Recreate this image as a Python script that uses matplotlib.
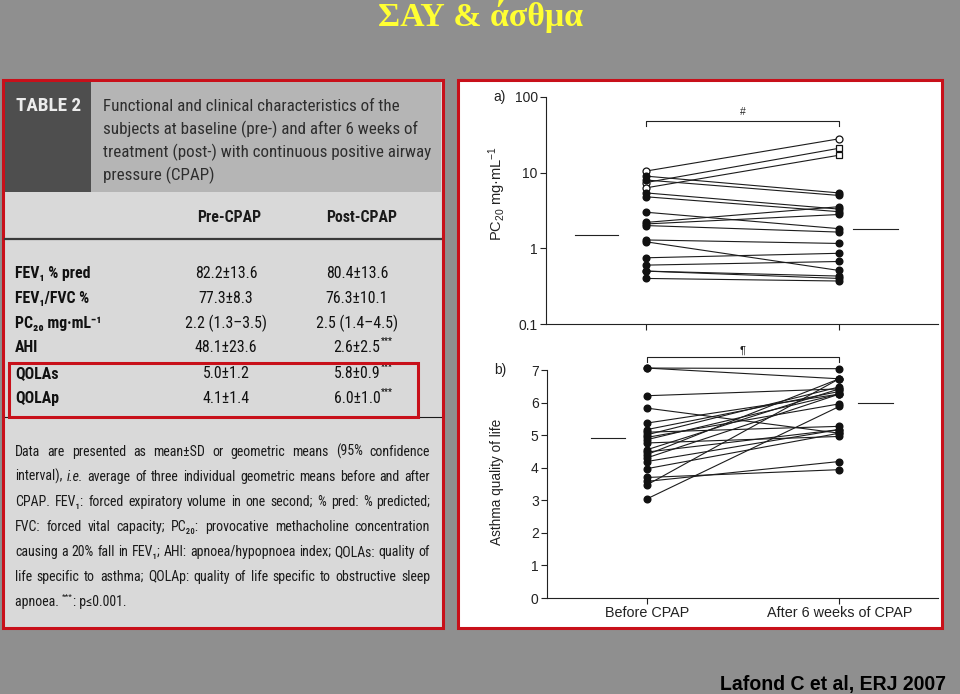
import matplotlib
matplotlib.use('Agg')
import matplotlib.pyplot as plt
from matplotlib.patches import Rectangle
from matplotlib.ticker import NullLocator, FixedLocator

plt.rcParams['mathtext.fontset'] = 'custom'
plt.rcParams['mathtext.rm'] = 'Liberation Sans'
plt.rcParams['mathtext.it'] = 'Liberation Sans:italic'

# ---- data ----
groups = ['Before CPAP', 'After 6 weeks of CPAP']

# a) PC20 (mg/mL), one value per subject; first 3 drawn with open markers
pc20_pre = [10.5, 7.4, 6.3, 9.0, 8.0, 5.4, 4.8, 3.0, 2.2, 2.1, 2.0, 1.29, 1.22, 0.75, 0.60, 0.50, 0.50, 0.40]
pc20_post = [28.0, 21.0, 17.0, 5.4, 5.0, 3.3, 3.05, 1.82, 3.55, 2.8, 1.64, 1.16, 0.51, 0.86, 0.67, 0.43, 0.40, 0.37]
pc20_open = 3
pc20_means = [1.5, 1.8]
pc20_ticks = [0.1, 1, 10, 100]
pc20_ticklabels = ['0.1', '1', '10', '100']

# b) asthma quality of life
qol_pre = [7.06, 7.06, 6.21, 5.83, 5.37, 5.17, 5.09, 5.01, 4.93, 4.86, 4.76, 4.55, 4.48, 4.40, 4.30, 4.19, 3.97, 3.70, 3.58, 3.47, 3.04]
qol_post = [7.04, 6.73, 6.42, 5.06, 6.26, 6.34, 5.27, 6.48, 5.96, 6.26, 4.96, 6.42, 5.17, 6.73, 6.26, 5.17, 5.06, 3.94, 4.19, 6.73, 5.88]
qol_means = [4.9, 6.0]
qol_ticks = [0, 1, 2, 3, 4, 5, 6, 7]

# table 2
table_title = ['Functional and clinical characteristics of the',
               'subjects at baseline (pre-) and after 6 weeks of',
               'treatment (post-) with continuous positive airway',
               'pressure (CPAP)']
table_cols = ['Pre-CPAP', 'Post-CPAP']
table_rows = ['FEV₁ % pred', 'FEV₁/FVC %', 'PC₂₀ mg·mL⁻¹', 'AHI', 'QOLAs', 'QOLAp']
table_pre = ['82.2±13.6', '77.3±8.3', '2.2 (1.3–3.5)', '48.1±23.6', '5.0±1.2', '4.1±1.4']
table_post = ['80.4±13.6', '76.3±10.1', '2.5 (1.4–4.5)', '2.6±2.5', '5.8±0.9', '6.0±1.0']
table_stars = ['', '', '', '***', '***', '***']
footnote = ['Data are presented as mean±SD or geometric means (95% confidence',
            'interval), i.e. average of three individual geometric means before and after',
            'CPAP. FEV₁: forced expiratory volume in one second; % pred: % predicted;',
            'FVC: forced vital capacity; PC₂₀: provocative methacholine concentration',
            'causing a 20% fall in FEV₁; AHI: apnoea/hypopnoea index; QOLAs: quality of',
            'life specific to asthma; QOLAp: quality of life specific to obstructive sleep']

NARROW = ['Roboto Condensed', 'DejaVu Sans']
ARIAL = ['Liberation Sans', 'DejaVu Sans']
RED = '#c8101a'

fig = plt.figure(figsize=(9.6, 6.94), dpi=100, facecolor='#8f8f8f')
bg = fig.add_axes([0, 0, 1, 1])
bg.set_xlim(0, 960)
bg.set_ylim(694, 0)
bg.axis('off')
renderer = fig.canvas.get_renderer()


def width(t):
    return t.get_window_extent(renderer).width


def fit(x, y, s, w, **kw):
    # draw text, then rescale font so it spans w pixels
    t = bg.text(x, y, s, fontsize=10, **kw)
    t.set_fontsize(10 * w / width(t))
    return t


def size_for(s, w, **kw):
    t = bg.text(0, 0, s, fontsize=10, **kw)
    size = 10 * w / width(t)
    t.remove()
    return size


def justify(y, line, x0, x1, size):
    words = line.split(' ')
    ts = [bg.text(0, y, wd, fontsize=size, family=NARROW, va='baseline', color='#1a1a1a',
                  style='italic' if wd == 'i.e.' else 'normal') for wd in words]
    ws = [width(t) for t in ts]
    gap = (x1 - x0 - sum(ws)) / (len(ws) - 1)
    x = x0
    for t, wd in zip(ts, ws):
        t.set_x(x)
        x += wd + gap


# title and source
fit(480, 26, 'ΣΑΥ & άσθμα', 205, ha='center', va='baseline', color='#ffff33',
    family=['Liberation Serif', 'DejaVu Serif'], weight='bold')
fit(946, 690, 'Lafond C et al, ERJ 2007', 227, ha='right', va='baseline', color='black',
    family=ARIAL, weight='bold')

# ---- left panel: table ----
bg.add_patch(Rectangle((2.5, 79.5), 440, 548, fc='#d9d9d9', ec=RED, lw=2.2, zorder=1))
bg.add_patch(Rectangle((4.5, 81.5), 86.5, 110.5, fc='#4e4e4e', ec='none', zorder=2))
bg.add_patch(Rectangle((91, 81.5), 350, 110.5, fc='#b5b5b5', ec='none', zorder=2))
fit(16, 111, 'TABLE 2', 65, family=NARROW, weight='bold', color='#ececec', va='baseline', zorder=3)

hs = size_for(table_title[2], 327, family=NARROW)
for i, line in enumerate(table_title):
    bg.text(103, 111 + i * 23.2, line, fontsize=hs, family=NARROW, color='#2e2e2e',
            va='baseline', zorder=3)

bs = size_for('82.2±13.6', 62, family=NARROW)
bg.text(229, 222, table_cols[0], fontsize=bs, family=NARROW, weight='bold', ha='center',
        va='baseline', color='#1a1a1a')
bg.text(362, 222, table_cols[1], fontsize=bs, family=NARROW, weight='bold', ha='center',
        va='baseline', color='#1a1a1a')
bg.plot([5, 441], [238.5, 238.5], color='#3a3a3a', lw=1.6)
bg.plot([5, 441], [417, 417], color='#1a1a1a', lw=0.8)

ys = [278, 303, 328, 352, 378, 403]
for y, lab, pre, post, st in zip(ys, table_rows, table_pre, table_post, table_stars):
    bg.text(15, y, lab, fontsize=bs, family=NARROW, weight='bold', va='baseline', color='#111')
    bg.text(226, y, pre, fontsize=bs, family=NARROW, ha='center', va='baseline', color='#111')
    t = bg.text(357, y, post, fontsize=bs, family=NARROW, ha='center', va='baseline', color='#111')
    if st:
        x_end = t.get_window_extent(renderer).x1
        bg.text(x_end + 0.5, y - 8, st, fontsize=bs * 0.55, family=NARROW, weight='bold',
                va='baseline', color='#111')
bg.add_patch(Rectangle((8.5, 362.5), 409, 54, fc='none', ec=RED, lw=2.2, zorder=4))

fs = size_for(footnote[1], 402, family=NARROW)
for i, line in enumerate(footnote):
    justify(456 + i * 25, line, 15, 430, fs)
t = bg.text(15, 456 + 6 * 25, 'apnoea. ', fontsize=fs, family=NARROW, va='baseline', color='#1a1a1a')
x = t.get_window_extent(renderer).x1
t = bg.text(x, 456 + 6 * 25 - 7, '***', fontsize=fs * 0.6, family=NARROW, va='baseline', color='#1a1a1a')
x = t.get_window_extent(renderer).x1
bg.text(x, 456 + 6 * 25, ': p≤0.001.', fontsize=fs, family=NARROW, va='baseline', color='#1a1a1a')

# ---- right panel: figure ----
bg.add_patch(Rectangle((457.5, 79.5), 484, 548, fc='white', ec=RED, lw=2.2, zorder=1))

xlim = (-0.518, 1.513)
line_kw = dict(color='#1c1c1c', lw=0.8, zorder=2)


def style(ax):
    ax.set_facecolor('none')
    ax.set_xlim(*xlim)
    for s in ('top', 'right'):
        ax.spines[s].set_visible(False)
    for s in ('left', 'bottom'):
        ax.spines[s].set_linewidth(0.8)
        ax.spines[s].set_color('#222')
    ax.set_xticks([0, 1])
    ax.tick_params(direction='out', length=4, width=0.8, labelsize=10, pad=2, colors='#222')
    for lab in ax.get_xticklabels() + ax.get_yticklabels():
        lab.set_family(ARIAL)


# a) PC20
ax_a = fig.add_axes([546 / 960, 1 - 324 / 694, (938 - 546) / 960, (324 - 97) / 694])
ax_a.set_yscale('log')
ax_a.set_ylim(0.1, 100)
style(ax_a)
ax_a.yaxis.set_major_locator(FixedLocator(pc20_ticks))
ax_a.yaxis.set_minor_locator(NullLocator())
ax_a.set_yticklabels(pc20_ticklabels, family=ARIAL)
ax_a.set_xticklabels([])
for i, (p0, p1) in enumerate(zip(pc20_pre, pc20_post)):
    ax_a.plot([0, 1], [p0, p1], **line_kw)
    if i < pc20_open:
        ax_a.plot(0, p0, 'o', ms=5, mfc='white', mec='#111', mew=0.9, zorder=3)
        ax_a.plot(1, p1, 'o' if i == 0 else 's', ms=5 if i == 0 else 4.6, mfc='white',
                  mec='#111', mew=0.9, zorder=3)
    else:
        ax_a.plot([0, 1], [p0, p1], 'o', ms=4.8, color='#111', zorder=3)
ax_a.plot([-0.368, -0.145], [pc20_means[0]] * 2, color='#222', lw=0.8)
ax_a.plot([1.073, 1.306], [pc20_means[1]] * 2, color='#222', lw=0.8)
ax_a.plot([0, 0, 1, 1], [41, 47.5, 47.5, 41], color='#222', lw=0.8, clip_on=False)
ax_a.text(0.5, 55, '#', ha='center', va='bottom', fontsize=7.5, family=ARIAL, color='#222')

# b) asthma quality of life
ax_b = fig.add_axes([547 / 960, 1 - 598 / 694, (938 - 547) / 960, (598 - 370) / 694])
ax_b.set_ylim(0, 7)
style(ax_b)
ax_b.set_yticks(qol_ticks)
ax_b.set_xticklabels(groups, family=ARIAL, fontsize=10.4)
for p0, p1 in zip(qol_pre, qol_post):
    ax_b.plot([0, 1], [p0, p1], 'o-', ms=4.8, mfc='#111', mec='#111', clip_on=False, **line_kw)
ax_b.plot([-0.29, -0.114], [qol_means[0]] * 2, color='#222', lw=0.8)
ax_b.plot([1.10, 1.28], [qol_means[1]] * 2, color='#222', lw=0.8)
ax_b.plot([0, 0, 1, 1], [7.26, 7.41, 7.41, 7.26], color='#222', lw=0.8, clip_on=False)
ax_b.text(0.5, 7.45, '¶', ha='center', va='bottom', fontsize=8, family=ARIAL, color='#222')

# panel letters and axis titles
bg.text(500, 97, 'a)', ha='center', va='center', fontsize=10, family=ARIAL, color='#222')
bg.text(500, 370, 'b)', ha='center', va='center', fontsize=10, family=ARIAL, color='#222')
bg.text(497, 193, r'PC$_{\mathrm{20}}$ mg·mL$^{\mathrm{-1}}$', rotation=90, ha='center',
        va='center', fontsize=10.5, family=ARIAL, color='#222')
bg.text(497, 482, 'Asthma quality of life', rotation=90, ha='center', va='center',
        fontsize=9.8, family=ARIAL, color='#222')

plt.savefig('out.png', dpi=100, facecolor=fig.get_facecolor())
